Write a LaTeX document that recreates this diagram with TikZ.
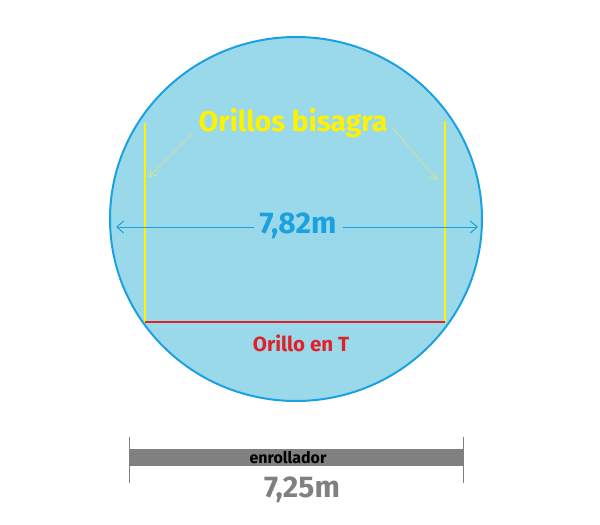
\documentclass[tikz,border=0pt]{standalone}
\usepackage{fontspec}
\setmainfont{Fira Sans}
\usetikzlibrary{arrows.meta,shapes.geometric}
\definecolor{poolfill}{RGB}{153,217,234}
\definecolor{poolblue}{RGB}{27,161,226}
\definecolor{hingeyellow}{RGB}{255,242,0}
\definecolor{paleyellow}{RGB}{225,230,120}
\definecolor{tred}{RGB}{226,32,40}
\definecolor{bargray}{RGB}{128,128,128}
\tikzset{
  lbl/.style={inner sep=0pt, font=\bfseries},
  hinge/.style={draw=hingeyellow, line width=2pt},
  pointer/.style={draw=paleyellow, line width=0.6pt, -{Straight Barb[length=7pt,width=9pt]}},
  dim/.style={draw=poolblue, line width=1pt, -{Straight Barb[length=7pt,width=12pt]}},
  tick/.style={draw=bargray, line width=1pt}
}
\begin{document}
\begin{tikzpicture}[x=1pt,y=-1pt]
\useasboundingbox (0,0) rectangle (600,525);
% pool
\node[draw=poolblue, fill=poolfill, line width=2pt, ellipse, minimum width=372pt, minimum height=364pt, inner sep=0pt] (pool) at (296,219) {};
% hinge lines
\coordinate (lt) at (145,123);
\coordinate (lb) at (145,322);
\coordinate (rt) at (445,121);
\coordinate (rb) at (445,322);
\draw[hinge] (lt) -- (lb);
\draw[hinge] (rt) -- (rb);
\draw[draw=tred, line width=2pt] (lb) -- (rb);
% labels
\node[lbl, text=hingeyellow, font=\fontsize{28.5}{32}\selectfont\bfseries] (hl) at (293,123) {Orillos bisagra};
\coordinate (pl) at (149,177);
\coordinate (pr) at (437,180);
\draw[pointer] (193,133) -- (pl);
\draw[pointer] (392,127) -- (pr);
\node[lbl, text=poolblue, font=\fontsize{30}{34}\selectfont\bfseries] (dl) at (298,226) {7,82m};
\coordinate (dL) at (116,227);
\coordinate (dR) at (478,227);
\draw[dim] (dl.west) ++(-5,1) -- (dL);
\draw[dim] (dl.east) ++(6,1) -- (dR);
\node[lbl, text=tred, font=\fontsize{20.5}{24}\selectfont\bfseries] (tl) at (301,343) {Orillo en T};
% roller
\node[fill=bargray, minimum width=333pt, minimum height=17pt, inner sep=0pt] (bar) at (296.5,457.5) {};
\node[lbl, text=black, font=\fontsize{16}{18}\selectfont\bfseries] (el) at (288,458) {enrollador};
\draw[tick] (bar.west) ++(0,-21) -- ++(0,46);
\draw[tick] (bar.east) ++(0,-21) -- ++(0,46);
\node[lbl, text=bargray, font=\fontsize{30}{34}\selectfont\bfseries] (ml) at (302,490) {7,25m};
\end{tikzpicture}
\end{document}
